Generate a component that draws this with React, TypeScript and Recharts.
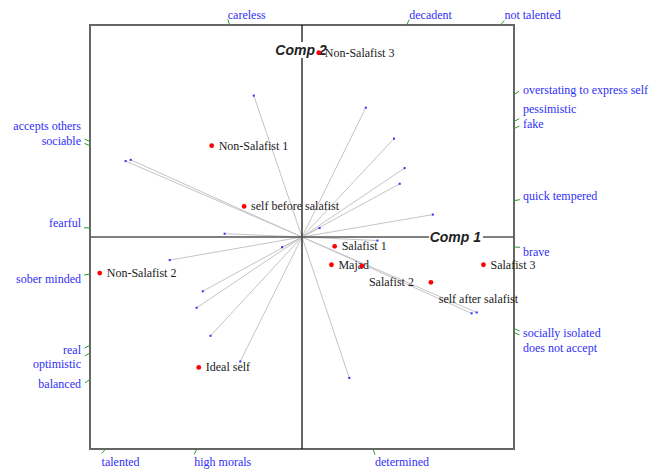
import React from 'react';
import { ScatterChart, Scatter, XAxis, YAxis, ReferenceLine, ReferenceArea } from 'recharts';

// Biplot of a repertory grid: elements as red points, constructs as grey
// loading vectors whose directions are projected onto the frame edge.

const W = 654;
const H = 473;
const BOX = { left: 90, top: 25, size: 424 };
const PX = BOX.size / 2; // pixels per unit on both axes

// elements (scores)
const elemNames = [
  'Non-Salafist 3', 'Non-Salafist 1', 'self before salafist', 'Non-Salafist 2', 'Ideal self',
  'Salafist 1', 'Majad', 'self after salafist', 'Salafist 2', 'Salafist 3',
];
const elemX = [0.079, -0.426, -0.273, -0.954, -0.487, 0.154, 0.139, 0.282, 0.608, 0.856];
const elemY = [0.869, 0.431, 0.144, -0.170, -0.615, -0.044, -0.131, -0.137, -0.214, -0.131];

// constructs (loadings)
const consNames = [
  'careless', 'decadent', 'not talented', 'overstating to express self', 'pessimistic', 'fake',
  'quick tempered', 'brave', 'socially isolated', 'does not accept', 'determined', 'high morals',
  'talented', 'balanced', 'optimistic', 'real', 'sober minded', 'fearful', 'accepts others', 'sociable',
];
const consX = [
  -0.2275, 0.301, 0.434, 0.484, 0.461, 0.083,
  0.617, 0.356, 0.824, 0.800, 0.223, -0.291,
  -0.4315, -0.497, -0.468, -0.094, -0.624, -0.365, -0.808, -0.832,
];
const consY = [
  0.667, 0.610, 0.464, 0.325, 0.251, 0.0424,
  0.1057, -0.0168, -0.356, -0.360, -0.665, -0.587,
  -0.466, -0.334, -0.256, -0.048, -0.109, 0.0155, 0.364, 0.358,
];

// label placement for the elements (pixel offset from the dot)
const ELEM_LABEL: Record<string, { dx: number; dy: number; anchor: 'start' | 'end' }> = {
  'Non-Salafist 3': { dx: 6, dy: 0, anchor: 'start' },
  'Salafist 2': { dx: -17, dy: 0, anchor: 'end' },
  'self after salafist': { dx: 77, dy: 33, anchor: 'start' },
};

const SERIF = '"Liberation Serif", "DejaVu Serif", serif';
const BLUE = '#2f2ff5';
const GREEN = '#2c9a2c';
const LINE_H = 14.6;

const elements = elemNames.map((name, i) => ({ name, x: elemX[i], y: elemY[i] }));
const loadings = consNames.map((name, i) => ({ name, x: consX[i], y: consY[i] }));

type Side = 'top' | 'bottom' | 'left' | 'right';
interface Mark { name: string; x: number; y: number; side: Side; ux: number; uy: number; dy: number }

// where each construct direction meets the frame, plus stacked label offsets
function buildMarks(): Mark[] {
  const marks: Mark[] = loadings.map(l => {
    const m = Math.max(Math.abs(l.x), Math.abs(l.y));
    const len = Math.hypot(l.x, l.y);
    const side: Side = Math.abs(l.x) >= Math.abs(l.y) ? (l.x > 0 ? 'right' : 'left') : (l.y > 0 ? 'top' : 'bottom');
    return { name: l.name, x: l.x / m, y: l.y / m, side, ux: l.x / len, uy: l.y / len, dy: 0 };
  });
  (['left', 'right'] as Side[]).forEach(side => {
    const s = marks.filter(m => m.side === side).map(m => ({ m, py: -m.y * PX, c: 0 }));
    s.forEach(o => { o.c = o.py + (o.py < 0 ? -5 : 4.5); });
    const upper = s.filter(o => o.py < 0).sort((a, b) => b.py - a.py);
    for (let i = 1; i < upper.length; i++) upper[i].c = Math.min(upper[i].c, upper[i - 1].c - LINE_H);
    const lower = s.filter(o => o.py >= 0).sort((a, b) => a.py - b.py);
    for (let i = 1; i < lower.length; i++) lower[i].c = Math.max(lower[i].c, lower[i - 1].c + LINE_H);
    s.forEach(o => { o.m.dy = o.c - o.py; });
  });
  return marks;
}
const marks = buildMarks();

const serifStyle = { fontFamily: SERIF, fontSize: 12 };

function EndDot(props: any) {
  const { cx, cy } = props;
  if (cx == null || cy == null) return <g />;
  return <rect x={cx - 1} y={cy - 1} width={2} height={2} fill={BLUE} />;
}

function ElemDot(props: any) {
  const { cx, cy, payload } = props;
  if (cx == null || cy == null) return <g />;
  const lab = ELEM_LABEL[payload.name] ?? { dx: 7, dy: 0, anchor: 'start' };
  return (
    <g>
      <circle cx={cx} cy={cy} r={2.4} fill="#ff0000" />
      <text x={cx + lab.dx} y={cy + lab.dy + 4} textAnchor={lab.anchor} style={serifStyle} fill="#1a1a1a">
        {payload.name}
      </text>
    </g>
  );
}

function EdgeMark(props: any) {
  const { cx, cy, payload } = props;
  if (cx == null || cy == null) return <g />;
  const m = payload as Mark;
  const ex = cx + m.ux * 6;
  const ey = cy - m.uy * 6;
  let tx = ex, ty = cy, anchor: 'start' | 'end' = 'start';
  if (m.side === 'top') { tx = ex; ty = cy - 6.5; }
  else if (m.side === 'bottom') { tx = ex; ty = cy + 17; }
  else if (m.side === 'right') { tx = cx + 9; ty = cy + m.dy + 4; }
  else { tx = cx - 9; ty = cy + m.dy + 4; anchor = 'end'; }
  return (
    <g>
      <line x1={cx} y1={cy} x2={ex} y2={ey} stroke={GREEN} strokeWidth={1} />
      <text x={tx} y={ty} textAnchor={anchor} style={serifStyle} fill={BLUE}>{m.name}</text>
    </g>
  );
}

function AxisTitle({ viewBox, text, kind }: any) {
  if (!viewBox) return null;
  const font = { fontFamily: '"Liberation Sans", Arial, sans-serif', fontSize: 14, fontWeight: 700, fontStyle: 'italic' as const };
  if (kind === 'h') {
    const right = viewBox.x + viewBox.width - 33;
    return (
      <g>
        <rect x={right - 52} y={viewBox.y - 8} width={54} height={16} fill="#fff" />
        <text x={right} y={viewBox.y + 5} textAnchor="end" style={font} fill="#222">{text}</text>
      </g>
    );
  }
  const cx = viewBox.x - 1;
  const cy = viewBox.y + 25;
  return (
    <g>
      <rect x={cx - 26} y={cy - 8} width={52} height={16} fill="#fff" />
      <text x={cx} y={cy + 5} textAnchor="middle" style={font} fill="#222">{text}</text>
    </g>
  );
}

export default function App() {
  return (
    <div style={{ position: 'absolute', left: 0, top: 0, width: W, height: H, background: '#fff' }}>
      <ScatterChart
        width={W}
        height={H}
        margin={{ top: BOX.top, left: BOX.left, right: W - BOX.left - BOX.size, bottom: H - BOX.top - BOX.size }}
      >
        <XAxis type="number" dataKey="x" domain={[-1, 1]} hide />
        <YAxis type="number" dataKey="y" domain={[-1, 1]} hide />
        <ReferenceArea x1={-1} x2={1} y1={-1} y2={1} fill="none" stroke="#666" strokeWidth={2} />
        {loadings.map(l => (
          <ReferenceLine
            key={l.name}
            segment={[{ x: 0, y: 0 }, { x: l.x, y: l.y }]}
            stroke="#c4c4c4"
            strokeWidth={1}
          />
        ))}
        <ReferenceLine x={0} stroke="#000" strokeWidth={1.2}
          label={(p: any) => <AxisTitle viewBox={p.viewBox} text="Comp 2" kind="v" />} />
        <ReferenceLine y={0} stroke="#555" strokeWidth={1.6}
          label={(p: any) => <AxisTitle viewBox={p.viewBox} text="Comp 1" kind="h" />} />
        <Scatter data={loadings} shape={EndDot} isAnimationActive={false} />
        <Scatter data={marks} shape={EdgeMark} isAnimationActive={false} />
        <Scatter data={elements} shape={ElemDot} isAnimationActive={false} />
      </ScatterChart>
    </div>
  );
}
